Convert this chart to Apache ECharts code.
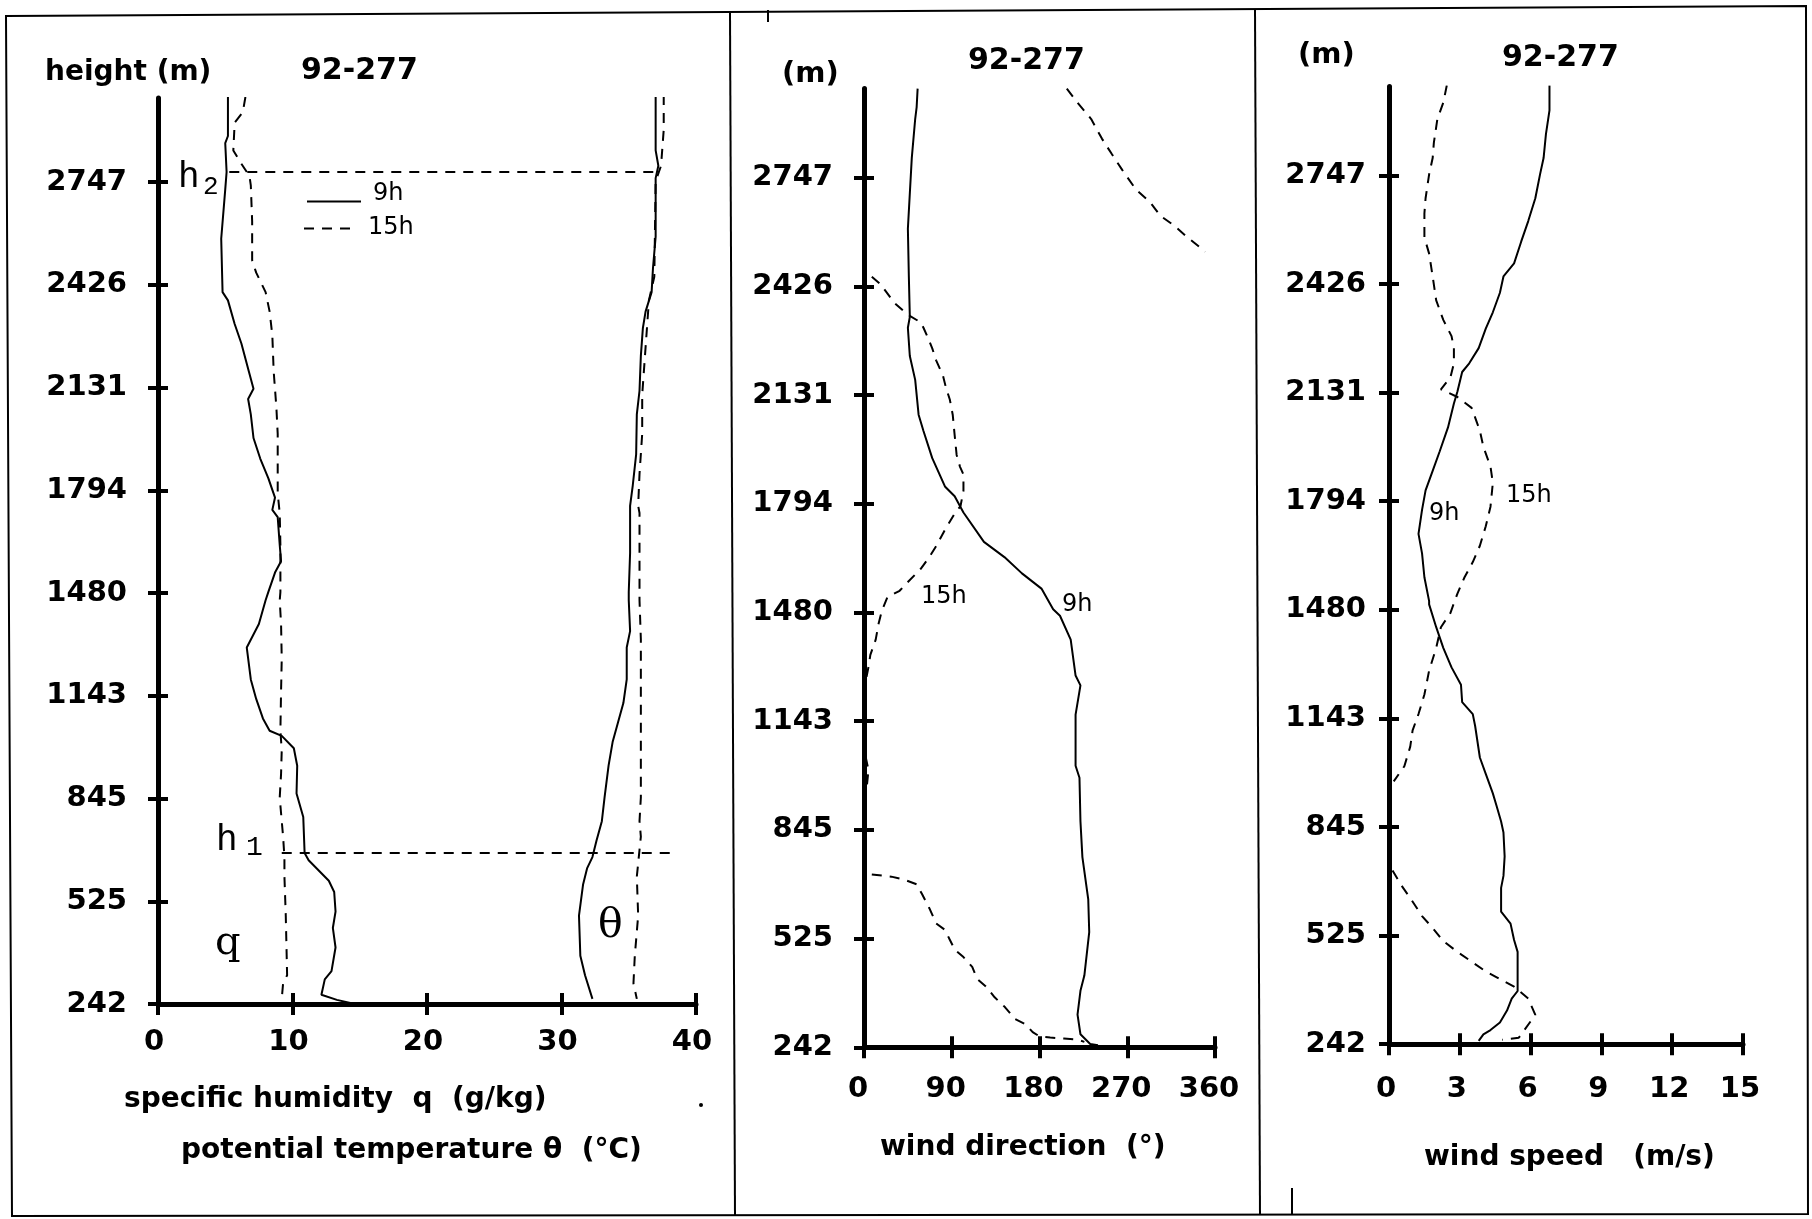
<!DOCTYPE html>
<html><head><meta charset="utf-8">
<script src="https://cdn.jsdelivr.net/npm/echarts@6/dist/echarts.min.js"></script>
<style>html,body{margin:0;padding:0;background:#fff}#c{width:1812px;height:1219px}</style>
</head><body><div id="c"></div>
<script>
// ---- tick labels (heights of the levels, equally spaced on the axis) ----
const heightLabels = ['242','525','845','1143','1480','1794','2131','2426','2747'];
const levelTicks = [0,1,2,3,4,5,6,7,8];
const levelMax = 8.82;
// ---- panel 1: specific humidity q (g/kg) and potential temperature θ (°C); y in level units ----
const q9 = [[5.2,8.83],[5.2,8.45],[5.0,8.38],[5.1,8.1],[5.0,7.93],[4.7,7.45],[4.8,6.93],[5.2,6.85],[5.7,6.62],[6.2,6.43],[6.75,6.16],[7.1,5.99],[6.7,5.89],[6.9,5.74],[7.1,5.51],[7.6,5.31],[8.2,5.12],[8.7,4.93],[8.5,4.81],[8.9,4.74],[9.05,4.47],[9.15,4.31],[8.7,4.2],[8.2,4.01],[8.0,3.93],[7.5,3.70],[6.6,3.47],[6.9,3.16],[7.3,2.97],[7.8,2.78],[8.3,2.66],[9.2,2.61],[10.1,2.49],[10.35,2.32],[10.3,2.05],[10.8,1.82],[10.9,1.47],[11.2,1.40],[12.7,1.20],[13.1,1.09],[13.2,0.90],[13.0,0.74],[13.2,0.55],[12.9,0.32],[12.4,0.24],[12.15,0.09],[13.3,0.04],[14.3,0.01]];
const q15 = [[6.5,8.83],[6.3,8.68],[5.7,8.58],[5.6,8.31],[6.1,8.2],[6.8,8.06],[6.9,7.97],[7.0,7.62],[7.0,7.24],[7.3,7.12],[8.0,6.93],[8.3,6.74],[8.5,6.51],[8.6,6.16],[8.8,5.81],[8.9,5.55],[8.9,4.97],[9.05,4.78],[9.1,4.47],[9.1,4.01],[9.05,3.93],[9.15,3.70],[9.2,3.36],[9.15,3.05],[9.1,2.66],[9.2,2.47],[9.15,2.24],[9.05,2.01],[9.3,1.63],[9.4,1.43],[9.4,1.24],[9.5,0.86],[9.6,0.28],[9.3,0.2],[9.2,0.05]];
const theta9 = [[37.0,8.85],[37.0,8.31],[37.2,8.16],[37.0,8.04],[37.0,7.47],[36.8,7.16],[36.7,6.93],[36.25,6.74],[36.05,6.58],[35.9,6.31],[35.8,5.97],[35.6,5.74],[35.55,5.35],[35.3,5.05],[35.1,4.85],[35.1,4.39],[35.0,4.01],[35.0,3.93],[35.1,3.63],[34.85,3.47],[34.85,3.16],[34.6,2.93],[34.2,2.74],[33.8,2.55],[33.5,2.32],[33.2,2.01],[33.0,1.78],[32.6,1.59],[32.3,1.43],[31.9,1.32],[31.6,1.16],[31.3,0.86],[31.4,0.47],[31.75,0.28],[32.3,0.05]];
const theta15 = [[37.6,8.85],[37.6,8.51],[37.4,8.16],[37.0,8.01],[36.9,7.08],[36.5,6.85],[36.0,5.93],[36.0,5.55],[35.8,5.16],[35.7,4.85],[35.8,4.78],[35.8,4.01],[35.8,3.93],[35.9,3.55],[35.9,2.78],[35.9,2.01],[35.8,1.78],[35.9,1.63],[35.6,1.24],[35.7,0.86],[35.45,0.47],[35.35,0.2],[35.6,0.05]];
const h2Line = [[5.3,8.10],[37.2,8.10]];
const h1Line = [[9.2,1.47],[38.4,1.47]];
// ---- panel 2: wind direction (°) ----
const dir9 = [[55,8.82],[54,8.65],[52.5,8.54],[49,8.18],[45,7.53],[46,7.09],[47,6.72],[45,6.62],[47,6.36],[52.5,6.14],[56,5.82],[61,5.67],[70,5.42],[83,5.16],[93,5.07],[102,4.92],[123,4.65],[144,4.51],[162,4.36],[182,4.22],[194,4.03],[201,3.97],[212,3.75],[217,3.42],[222,3.33],[217,3.06],[217,2.59],[221,2.48],[222,2.08],[224,1.75],[230,1.36],[231,1.06],[226,0.66],[222,0.52],[219,0.30],[222,0.12],[232,0.03],[240,0.02]];
const dir15Top = [[208,8.82],[219,8.69],[233,8.54],[244,8.36],[254,8.22],[265,8.07],[279,7.89],[293,7.78],[304,7.65],[318,7.56],[332,7.45],[350,7.32]];
const dir15Mid = [[8,7.09],[17,7.02],[31,6.85],[45,6.74],[58,6.67],[61,6.62],[65,6.54],[70,6.43],[74,6.32],[81,6.18],[84,6.07],[88,5.96],[91,5.82],[93,5.63],[95,5.45],[98.5,5.34],[102,5.27],[102,5.12],[99,4.98],[93,4.91],[83,4.76],[74,4.61],[67,4.51],[58,4.40],[46,4.29],[36.5,4.20],[24,4.14],[19,4.03],[17,3.97],[15,3.90],[12,3.75],[6.5,3.61],[4.6,3.50],[2.2,3.39],[1.5,3.0],[2,2.66],[4.6,2.55],[3,2.41]];
const dir15Low = [[8,1.59],[28,1.57],[42,1.54],[54,1.50],[59.5,1.41],[67,1.28],[74,1.14],[83,1.08],[88,0.99],[93,0.90],[102,0.83],[111,0.74],[116,0.63],[125,0.56],[134,0.46],[144.5,0.37],[155,0.26],[166,0.21],[173,0.14],[180,0.10],[191,0.09],[205,0.08],[219,0.07],[226,0.05]];
// ---- panel 3: wind speed (m/s) ----
const spd9 = [[6.8,8.83],[6.8,8.60],[6.65,8.38],[6.55,8.16],[6.4,8.01],[6.2,7.79],[5.9,7.58],[5.6,7.39],[5.3,7.19],[4.85,7.07],[4.7,6.92],[4.4,6.74],[4.1,6.59],[3.8,6.41],[3.4,6.27],[3.1,6.19],[2.9,6.01],[2.75,5.90],[2.5,5.68],[2.15,5.46],[1.85,5.28],[1.55,5.10],[1.4,4.92],[1.25,4.70],[1.4,4.52],[1.5,4.30],[1.7,4.08],[1.7,4.05],[2.0,3.84],[2.3,3.65],[2.65,3.47],[3.05,3.31],[3.1,3.15],[3.55,3.04],[3.65,2.93],[3.85,2.64],[4.1,2.49],[4.4,2.31],[4.55,2.20],[4.75,2.05],[4.85,1.95],[4.9,1.73],[4.85,1.55],[4.75,1.44],[4.75,1.22],[5.15,1.11],[5.3,0.96],[5.45,0.85],[5.45,0.49],[5.2,0.42],[5.0,0.31],[4.7,0.20],[4.3,0.13],[4.0,0.09],[3.8,0.03]];
const spd15Upper = [[2.45,8.83],[2.3,8.67],[2.05,8.52],[1.9,8.30],[1.85,8.16],[1.7,8.01],[1.55,7.79],[1.5,7.65],[1.5,7.43],[1.7,7.28],[1.85,7.07],[2.0,6.85],[2.3,6.67],[2.65,6.52],[2.75,6.41],[2.75,6.27],[2.6,6.14],[2.2,6.03],[2.9,5.96],[3.5,5.86],[3.85,5.65],[4.0,5.50],[4.3,5.32],[4.4,5.17],[4.3,4.95],[4.1,4.77],[3.85,4.59],[3.55,4.44],[3.2,4.30],[2.9,4.15],[2.6,3.97],[2.2,3.84],[2.0,3.65],[1.7,3.44],[1.5,3.22],[1.25,3.04],[1.0,2.89],[0.9,2.74],[0.65,2.56],[0.2,2.42]];
const spd15Lower = [[0.15,1.60],[0.5,1.47],[0.95,1.33],[1.4,1.18],[1.85,1.07],[2.3,0.95],[2.9,0.85],[3.5,0.76],[4.1,0.67],[4.7,0.60],[5.3,0.53],[5.9,0.42],[6.2,0.27],[5.5,0.06],[4.8,0.04]];

const BK = '#000';
const FONT = 'DejaVu Sans';
const DASH = [10, 8];

const grids = [
  {left:158, top:98, width:538, height:906},
  {left:864, top:88.6, width:351, height:958.7},
  {left:1389, top:86.4, width:354, height:957.8}
];
const xCfg = [
  {min:0, max:40, interval:10, margin:24, pad:[0,8,0,0]},
  {min:0, max:360, interval:90, margin:28, pad:[0,12,0,0]},
  {min:0, max:15, interval:3, margin:31, pad:[0,6,0,0]}
];
const yMargin = [31, 31, 23];

const gridList = grids.concat(grids.map(g => Object.assign({}, g)));
const xAxes = [], yAxes = [];
for (let k = 0; k < 2; k++) {
  for (let i = 0; i < 3; i++) {
    const inner = k === 1;
    const gi = i + 3*k;
    xAxes.push({
      gridIndex: gi, type:'value', min:xCfg[i].min, max:xCfg[i].max, interval:xCfg[i].interval,
      axisLine:{show:!inner, onZero:false, lineStyle:{color:BK, width:5}},
      axisTick:{show:true, inside:inner, length:11, lineStyle:{color:BK, width:4}},
      axisLabel:{show:!inner, color:BK, fontFamily:FONT, fontWeight:'bold', fontSize:29, margin:xCfg[i].margin, padding:xCfg[i].pad},
      splitLine:{show:false}
    });
    yAxes.push({
      gridIndex: gi, type:'value', min:0, max:levelMax,
      axisLine:{show:!inner, onZero:false, lineStyle:{color:BK, width:5}},
      axisTick:{show:true, inside:inner, length:10, customValues:levelTicks, lineStyle:{color:BK, width:4}},
      axisLabel:{show:!inner, customValues:levelTicks, color:BK, fontFamily:FONT, fontWeight:'bold', fontSize:29, margin:yMargin[i],
        formatter: v => { const r = Math.round(v); return Math.abs(v - r) < 1e-6 ? (heightLabels[r] || '') : ''; }},
      splitLine:{show:false}
    });
  }
}

function line(name, data, gi, dashed) {
  return {
    name, type:'line', xAxisIndex:gi, yAxisIndex:gi, data,
    showSymbol:false, symbol:'none', smooth:false, silent:true, z:3,
    lineStyle:{color:BK, width:2, type: dashed ? DASH : 'solid'}
  };
}
const series = [
  line('q 9h', q9, 0, false),
  line('q 15h', q15, 0, true),
  line('θ 9h', theta9, 0, false),
  line('θ 15h', theta15, 0, true),
  line('h2', h2Line, 0, true),
  line('h1', h1Line, 0, true),
  line('dir 9h', dir9, 1, false),
  line('dir 15h a', dir15Top, 1, true),
  line('dir 15h b', dir15Mid, 1, true),
  line('dir 15h c', dir15Low, 1, true),
  line('speed 9h', spd9, 2, false),
  line('speed 15h a', spd15Upper, 2, true),
  line('speed 15h b', spd15Lower, 2, true)
];

function txt(text, x, y, opt) {
  opt = opt || {};
  return {type:'text', z:10, silent:true, style:{
    text, x, y, fill:BK,
    fontFamily: opt.family || FONT, fontWeight: opt.weight || 'bold', fontSize: opt.size || 28,
    textAlign: opt.align || 'left', textVerticalAlign:'middle'
  }};
}
function seg(x1,y1,x2,y2,w,dash) {
  return {type:'line', z:10, silent:true, shape:{x1,y1,x2,y2}, style:{stroke:BK, lineWidth:w||2, lineDash: dash || null}};
}

const graphic = [
  {type:'polygon', silent:true, z:1, shape:{points:[[6,16],[1806,6],[1808,1214],[12,1216]]}, style:{fill:'none', stroke:BK, lineWidth:2}},
  seg(730,13,735,1215,2),
  seg(1255,9,1260,1215,2),
  seg(768,10,768,22,2),
  seg(1292,1188,1292,1214,2),
  {type:'circle', silent:true, shape:{cx:701, cy:1105, r:2}, style:{fill:BK}},
  // panel 1 texts
  txt('height (m)', 45, 73),
  txt('92-277', 301, 71, {size:30}),
  txt('specific humidity  q  (g/kg)', 124, 1100),
  txt('potential temperature θ  (°C)', 181, 1151),
  seg(307,201.5,361,201.5,2),
  txt('9h', 373, 194, {weight:'normal', size:24}),
  seg(304,228.5,354,228.5,2,[10,8]),
  txt('15h', 368, 228, {weight:'normal', size:24}),
  txt('h', 178, 177, {family:'Liberation Mono', weight:'normal', size:36}),
  txt('2', 203, 187, {family:'Liberation Mono', weight:'normal', size:26}),
  txt('h', 216, 840, {family:'Liberation Mono', weight:'normal', size:36}),
  txt('1', 246, 848, {family:'Liberation Mono', weight:'normal', size:28}),
  txt('q', 215, 944, {family:'DejaVu Serif', weight:'normal', size:40}),
  txt('θ', 598, 926, {family:'DejaVu Serif', weight:'normal', size:41}),
  // panel 2
  txt('(m)', 782, 74, {size:29}),
  txt('92-277', 968, 61, {size:30}),
  txt('wind direction  (°)', 880, 1148),
  txt('15h', 921, 597, {weight:'normal', size:24}),
  txt('9h', 1062, 605, {weight:'normal', size:24}),
  // panel 3
  txt('(m)', 1298, 55, {size:29}),
  txt('92-277', 1502, 58, {size:30}),
  txt('wind speed   (m/s)', 1424, 1158),
  txt('9h', 1429, 514, {weight:'normal', size:24}),
  txt('15h', 1506, 496, {weight:'normal', size:24})
];

const chart = echarts.init(document.getElementById('c'), null, {renderer:'canvas', width:1812, height:1219});
chart.setOption({
  animation:false,
  backgroundColor:'#fff',
  grid: gridList,
  xAxis: xAxes,
  yAxis: yAxes,
  series,
  graphic
});
</script>
</body></html>
